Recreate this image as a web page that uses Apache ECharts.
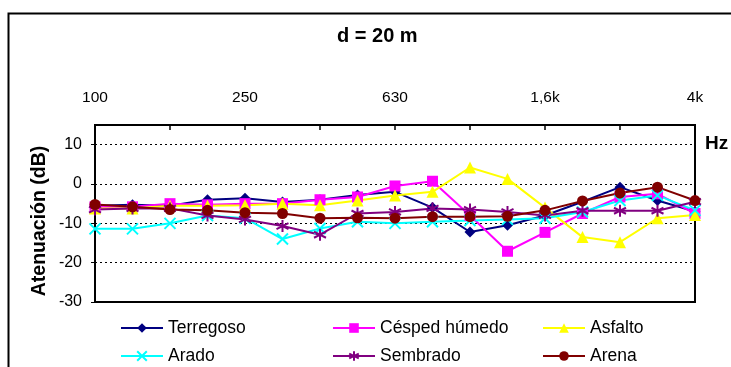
<!DOCTYPE html>
<html>
<head>
<meta charset="utf-8">
<script src="https://cdn.jsdelivr.net/npm/echarts@6/dist/echarts.min.js"></script>
<style>
  html, body { margin: 0; padding: 0; background: #fff; }
  #main { width: 731px; height: 367px; }
</style>
</head>
<body>
<div id="main"></div>
<script>
// bandas de tercio de octava
var bands = ['100', '125', '160', '200', '250', '315', '400', '500', '630', '800',
  '1k', '1,25k', '1,6k', '2k', '2,5k', '3,15k', '4k'];

var terregoso = [-5.5, -5.3, -5.5, -4.0, -3.6, -4.6, -4.0, -2.8, -2.0, -6.0, -12.2, -10.5, -8.0, -4.5, -0.8, -4.2, -7.0];
var cesped = [-5.8, -5.8, -5.0, -5.3, -5.0, -5.0, -4.0, -3.3, -0.5, 0.7, -8.0, -17.1, -12.3, -7.5, -3.3, -2.5, -7.5];
var asfalto = [-6.2, -6.2, -5.5, -5.5, -5.4, -5.0, -5.4, -4.2, -2.9, -2.0, 4.2, 1.3, -6.0, -13.5, -14.8, -8.7, -7.9];
var arado = [-11.4, -11.4, -10.0, -8.0, -8.7, -14.0, -11.3, -9.6, -10.0, -9.6, -9.3, -9.0, -8.7, -7.1, -4.2, -2.9, -6.7];
var sembrado = [-6.5, -6.2, -6.2, -8.0, -9.0, -10.7, -12.9, -7.5, -7.1, -6.2, -6.5, -7.1, -8.0, -6.8, -6.8, -6.8, -4.5];
var arena = [-5.2, -5.8, -6.5, -6.7, -7.3, -7.5, -8.7, -8.6, -8.7, -8.3, -8.3, -8.2, -6.7, -4.3, -2.3, -0.8, -4.2];

var font = 'Liberation Sans, Arial, sans-serif';

var crossPath = 'path://M0,0L10,10M10,0L0,10';
var starPath = 'path://M5,0L5,10M0.7,2.5L9.3,7.5M9.3,2.5L0.7,7.5';

function serie(name, data, color, symbol, size, hollow) {
  return {
    name: name,
    type: 'line',
    data: data,
    symbol: symbol,
    symbolSize: size,
    showAllSymbol: true,
    lineStyle: { color: color, width: 2 },
    itemStyle: hollow
      ? { color: 'transparent', borderColor: color, borderWidth: 2 }
      : { color: color, borderWidth: 0 },
    emphasis: { disabled: true },
    animation: false
  };
}

// una leyenda por elemento, en dos filas de tres
function leyenda(name, left, top) {
  return {
    data: [name],
    left: left, top: top,
    itemWidth: 42, itemHeight: 12,
    textStyle: { fontFamily: font, fontSize: 17.5, color: '#000' }
  };
}

var myChart = echarts.init(document.getElementById('main'));
myChart.setOption({
  animation: false,
  title: {
    text: 'd = 20 m',
    left: 332,
    top: 21,
    textStyle: { fontFamily: font, fontSize: 20, fontWeight: 'bold', color: '#000' }
  },
  graphic: [
    {
      type: 'rect',
      left: 6, top: 11,
      shape: { width: 800, height: 400 },
      style: { fill: 'none', stroke: '#000', lineWidth: 2 }
    },
    {
      type: 'text',
      left: 705, top: 134,
      style: { text: 'Hz', font: 'bold 19px ' + font, fill: '#000' }
    },
    {
      type: 'text',
      x: 40, y: 221,
      rotation: Math.PI / 2,
      style: {
        text: 'Atenuación (dB)',
        font: 'bold 19.5px ' + font,
        fill: '#000',
        align: 'center',
        verticalAlign: 'middle'
      }
    }
  ],
  legend: [
    leyenda('Terregoso', 115, 314),
    leyenda('Césped húmedo', 327, 314),
    leyenda('Asfalto', 537, 314),
    leyenda('Arado', 115, 342),
    leyenda('Sembrado', 327, 342),
    leyenda('Arena', 537, 342)
  ],
  grid: {
    left: 95, right: 36, top: 125, bottom: 65,
    show: true, borderColor: '#000', borderWidth: 2, backgroundColor: '#fff'
  },
  xAxis: {
    type: 'category',
    position: 'top',
    data: bands,
    boundaryGap: false,
    axisLine: { onZero: false, lineStyle: { color: '#000', width: 2 } },
    axisTick: { inside: true, length: 5, interval: 1, lineStyle: { color: '#000', width: 1.5 } },
    axisLabel: { interval: 3, margin: 19, fontFamily: font, fontSize: 15.5, color: '#000' },
    splitLine: { show: false }
  },
  yAxis: {
    type: 'value',
    min: -30, max: 15, interval: 10,
    axisLine: { show: true, lineStyle: { color: '#000', width: 2 } },
    axisTick: { show: true, length: 4, lineStyle: { color: '#000' } },
    axisLabel: { showMaxLabel: false, margin: 13, fontFamily: font, fontSize: 16, color: '#000' },
    splitLine: { lineStyle: { color: '#000', type: [2, 3], width: 1.2 } }
  },
  series: [
    serie('Terregoso', terregoso, '#000080', 'diamond', 11, false),
    serie('Césped húmedo', cesped, '#FF00FF', 'rect', 11, false),
    serie('Asfalto', asfalto, '#FFFF00', 'triangle', 12, false),
    serie('Arado', arado, '#00FFFF', crossPath, 11, true),
    serie('Sembrado', sembrado, '#800080', starPath, 12, true),
    serie('Arena', arena, '#800000', 'circle', 11, false)
  ]
});
</script>
</body>
</html>
